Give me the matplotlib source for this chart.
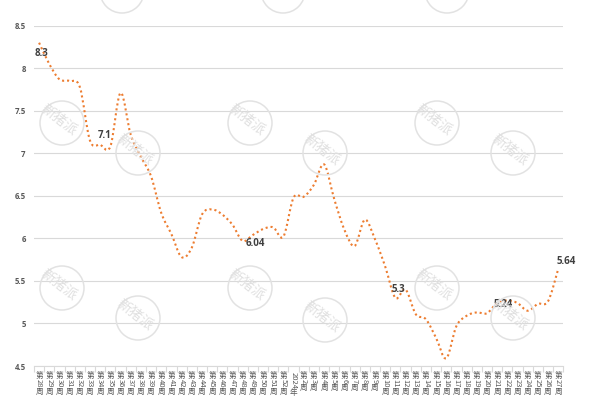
import numpy as np
import matplotlib
matplotlib.use("Agg")
import matplotlib.pyplot as plt
from matplotlib.path import Path
from matplotlib.patches import PathPatch, Ellipse

categories = ["第28周", "第29周", "第30周", "第31周", "第32周", "第33周", "第34周", "第35周",
              "第36周", "第37周", "第38周", "第39周", "第40周", "第41周", "第42周", "第43周",
              "第44周", "第45周", "第46周", "第47周", "第48周", "第49周", "第50周", "第51周",
              "第52周", "2024年", "第2周", "第3周", "第4周", "第5周", "第6周", "第7周",
              "第8周", "第9周", "第10周", "第11周", "第12周", "第13周", "第14周", "第15周",
              "第16周", "第17周", "第18周", "第19周", "第20周", "第21周", "第22周", "第23周",
              "第24周", "第25周", "第26周", "第27周"]

values = [8.30, 8.05, 7.87, 7.85, 7.78, 7.15, 7.10, 7.08, 7.71, 7.22, 6.96, 6.73, 6.30,
          6.05, 5.78, 5.89, 6.28, 6.34, 6.28, 6.16, 5.97, 6.04, 6.11, 6.13, 6.02, 6.48,
          6.49, 6.63, 6.87, 6.46, 6.10, 5.91, 6.22, 5.99, 5.67, 5.30, 5.40, 5.11, 5.05,
          4.83, 4.59, 4.97, 5.09, 5.13, 5.12, 5.24, 5.27, 5.24, 5.15, 5.23, 5.26, 5.64]

label_idx = [0, 6, 21, 35, 45, 51]
label_offsets = [(2, -8), (3.5, 6.5), (1.8, -6), (2.2, 6.2), (4.5, -1), (5.7, 5.3)]

yticks = [4.5, 5, 5.5, 6, 6.5, 7, 7.5, 8, 8.5]

LINE_COLOR = "#ED7D31"
GRID = "#D9D9D9"
TXT = "#595959"

fig = plt.figure(figsize=(6, 4), dpi=100)
ax = fig.add_axes([34 / 600, 1 - 366 / 400, (563.3 - 34) / 600, (366 - 25.7) / 400])

x = np.arange(len(values))
y = np.array(values, dtype=float)

# smooth (Catmull-Rom style) bezier path through data points
verts = [(x[0], y[0])]
codes = [Path.MOVETO]
n = len(x)
for i in range(n - 1):
    p0 = np.array([x[max(i - 1, 0)], y[max(i - 1, 0)]])
    p1 = np.array([x[i], y[i]])
    p2 = np.array([x[i + 1], y[i + 1]])
    p3 = np.array([x[min(i + 2, n - 1)], y[min(i + 2, n - 1)]])
    c1 = p1 + (p2 - p0) / 6.0
    c2 = p2 - (p3 - p1) / 6.0
    verts += [tuple(c1), tuple(c2), tuple(p2)]
    codes += [Path.CURVE4] * 3
patch = PathPatch(Path(verts, codes), facecolor="none", edgecolor=LINE_COLOR,
                  lw=1.5, linestyle=(0, (1.0, 1.4)), capstyle="butt", zorder=3)
ax.add_patch(patch)

ax.set_xlim(-0.5, n - 0.5)
ax.set_ylim(4.5, 8.5)
ax.set_yticks(yticks)
ax.set_yticklabels([f"{t:g}" for t in yticks], fontsize=5.6, color=TXT,
                   fontweight="bold", family=["Open Sans", "DejaVu Sans"])
ax.tick_params(axis="y", length=0, pad=6)
ax.yaxis.grid(True, color=GRID, lw=0.8)
ax.set_axisbelow(True)
for s in ["top", "right", "left"]:
    ax.spines[s].set_visible(False)
ax.spines["bottom"].set_color(GRID)
ax.spines["bottom"].set_linewidth(0.8)

ax.set_xticks(x)
ax.set_xticklabels([])
ax.tick_params(axis="x", which="major", length=0)
ax.set_xticks(np.arange(-0.5, n, 1), minor=True)
ax.tick_params(axis="x", which="minor", length=4, color=GRID, width=0.8)

# vertical category labels: CJK upright, digits rotated
fs = 5.5
cjk = ["Noto Sans CJK SC", "DejaVu Sans"]
for i, lab in enumerate(categories):
    segs = []
    buf = ""
    for ch in lab:
        if ch.isdigit():
            buf += ch
        else:
            if buf:
                segs.append((buf, True))
                buf = ""
            segs.append((ch, False))
    if buf:
        segs.append((buf, True))
    off = 4.0
    for s, rot in segs:
        if rot:
            ax.annotate(s, (i, 0), xycoords=("data", "axes fraction"),
                        xytext=(0, -off), textcoords="offset points",
                        ha="center", va="top", rotation=-90, fontsize=fs,
                        color=TXT, family=cjk, annotation_clip=False)
            off += 0.56 * fs * len(s) + 0.4
        else:
            ax.annotate(s, (i, 0), xycoords=("data", "axes fraction"),
                        xytext=(0, -off), textcoords="offset points",
                        ha="center", va="top", fontsize=fs,
                        color=TXT, family=cjk, annotation_clip=False)
            off += fs * 1.0

# data labels
for idx, (dx, dy) in zip(label_idx, label_offsets):
    ax.annotate(f"{values[idx]:g}", (idx, values[idx]), xytext=(dx, dy),
                textcoords="offset points", ha="center", va="center",
                fontsize=7, fontweight="bold", color="#404040",
                family=["Open Sans", "DejaVu Sans"], zorder=5)

# watermarks
wm = [(62, 123), (138, 153), (250, 123), (325, 153), (437, 123), (513, 153),
      (62, 288), (138, 318), (250, 288), (325, 320), (437, 288), (513, 318)]
wm_top = [(122, -9), (283, -9), (447, -9)]
for (px, py) in wm + wm_top:
    cx, cy = px / 600, 1 - py / 400
    fig.add_artist(Ellipse((cx, cy), 44 / 600, 44 / 400, transform=fig.transFigure,
                           facecolor="none", edgecolor="#E2E2E2", lw=1.1, zorder=0.5))
for (px, py) in wm:
    cx, cy = px / 600, 1 - py / 400
    fig.text(cx - 3 / 600, cy + 3 / 400, "新猪派", transform=fig.transFigure,
             ha="center", va="center", rotation=-38, fontsize=10,
             color="#E0E0E0", family=cjk, zorder=0.5)

fig.savefig("out.png", dpi=100, facecolor="white")
